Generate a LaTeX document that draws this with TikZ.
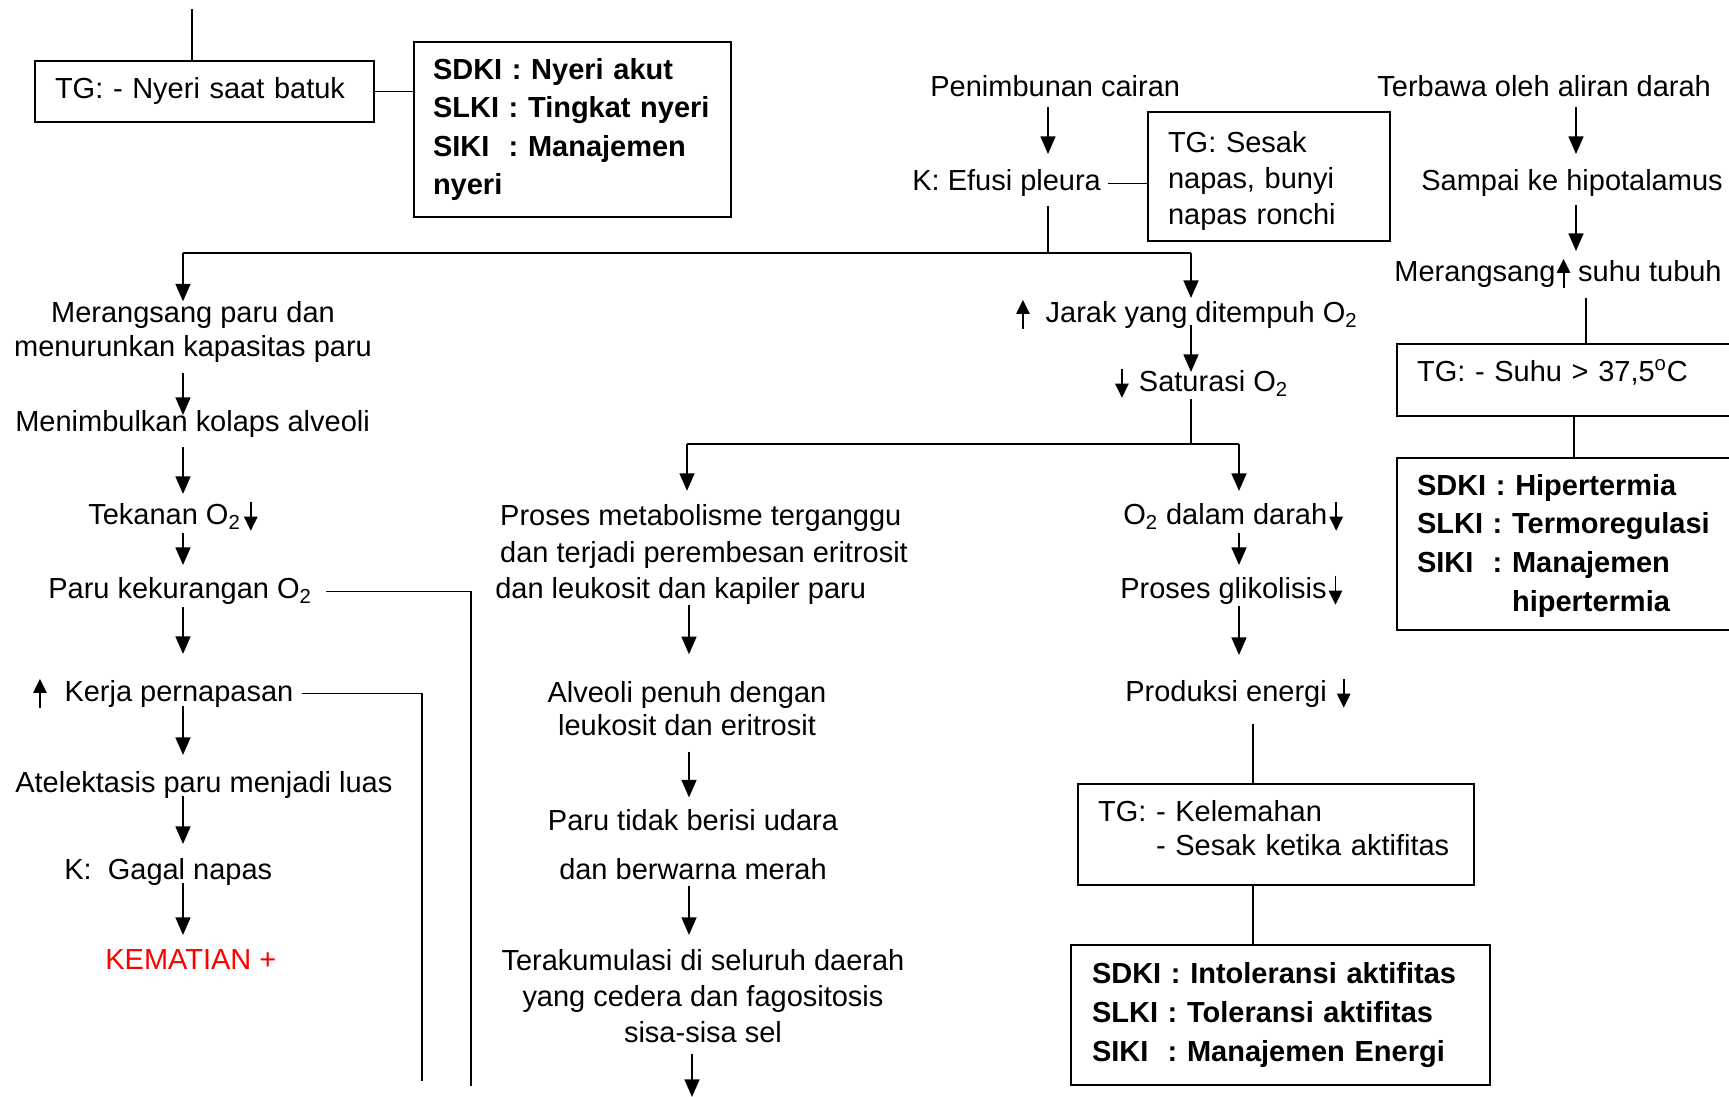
\documentclass[tikz,border=0pt]{standalone}
\usepackage{fontspec}
\setmainfont{Liberation Sans}
\usetikzlibrary{
    arrows.meta,    % For arrow tip styles like Triangle
    calc            % For coordinate offsets ($(...)+(...)$)
}
% Small up/down arrows that sit inside the texts
\newcommand{\naik}{\tikz[baseline=0pt]\draw[-{Triangle[length=8pt,width=7.5pt]}, line width=1.1pt] (0,-0.2em) -- (0,0.8em);}
\newcommand{\turun}{\tikz[baseline=0pt]\draw[-{Triangle[length=8pt,width=7.5pt]}, line width=1.1pt] (0,0.8em) -- (0,-0.2em);}

\begin{document}
\begin{tikzpicture}[
    x=0.02cm, y=-0.02cm, % one unit = one pixel of the scan, y runs downwards
    % Styles
    txt/.style={ % Plain text of the flow
        font=\fontsize{16.5}{19}\selectfont,
        inner sep=0pt
    },
    box/.style={ % Framed TG boxes
        draw,
        line width=0.7pt,
        font=\fontsize{16.5}{20.5}\selectfont,
        align=left,
        inner xsep=0.4cm,
        inner ysep=0pt
    },
    sdki_box/.style={ % Framed diagnosis boxes, bold
        box,
        font=\bfseries\fontsize{16.5}{22}\selectfont
    },
    arrow/.style={
        -{Triangle[length=10pt,width=8.5pt]}, line width=1pt
    },
    link/.style={ % Thin connecting lines without tip
        line width=0.6pt
    }
]
\useasboundingbox (0,0) rectangle (1729,1097);

% --- Top left: pain ---
\coordinate (topin) at (192,9);
\node[box, text width=5.98cm, minimum height=1.22cm] (tg1) at (204.5,91.5) {TG: - Nyeri saat batuk};
\node[sdki_box, inner xsep=0.38cm, text width=5.58cm, minimum height=3.5cm] (sdki1) at (572.5,129.5)
    {SDKI : Nyeri akut\\SLKI : Tingkat nyeri\\SIKI\ \ : Manajemen\\nyeri};
\draw[link] (topin) -- (tg1.north -| topin);
\draw[link] (tg1.east) -- (tg1.east -| sdki1.west);

% --- Efusi pleura ---
\node[txt, anchor=base west] (penim) at (930,97) {Penimbunan cairan};
\node[txt, anchor=base west] (efusi) at (912,191) {K: Efusi pleura};
\node[box, text width=4.04cm, minimum height=2.58cm, font=\fontsize{16.5}{20.7}\selectfont] (tgsesak) at (1269,176.5)
    {\rule{0pt}{17pt}TG: Sesak\\napas, bunyi\\napas ronchi};
\coordinate (colE) at (1048,0);
\draw[arrow] ($(penim.base -| colE)+(0,10)$) -- ($(efusi.base -| colE)+(0,-37)$);
\draw[link] ($(efusi.east)+(7,0)$) -- (efusi.east -| tgsesak.west);

% split below Efusi pleura
\coordinate (splitE) at (1048,253);
\coordinate (splitL) at (183,253);
\coordinate (splitR) at (1191,253);
\draw[link] ($(efusi.base -| splitE)+(0,15)$) -- (splitE);
\draw[link] (splitL) -- (splitR);

% --- Column 1: lungs ---
\coordinate (colA) at (183,0);
\node[txt, align=center, font=\fontsize{16.5}{19.5}\selectfont, anchor=base] (merang) at (193,357)
    {Merangsang paru dan\\menurunkan kapasitas paru};
\node[txt, anchor=base west] (menim) at (15,432) {Menimbulkan kolaps alveoli};
\node[txt, anchor=base west] (tekanan) at (88,525) {Tekanan O\textsubscript{2}\hspace{0.12em}\turun};
\node[txt, anchor=base west] (parukur) at (48,599) {Paru kekurangan O\textsubscript{2}};
\node[txt, anchor=base west] (kerja) at (33,702) {\naik\hspace{0.62em}Kerja pernapasan};
\node[txt, anchor=base west] (atelek) at (15,793) {Atelektasis paru menjadi luas};
\node[txt, anchor=base west] (gagal) at (64,880) {K:\ \ Gagal napas};
\node[txt, anchor=base west, text=red] (kematian) at (105,970) {KEMATIAN +};

\draw[arrow] (splitL) -- (merang.north -| splitL);
\draw[arrow] ($(merang.south -| colA)+(0,10)$) -- ($(menim.base -| colA)+(0,-17)$);
\draw[arrow] ($(menim.base -| colA)+(0,15)$) -- ($(tekanan.base -| colA)+(0,-31)$);
\draw[arrow] ($(tekanan.base -| colA)+(0,8)$) -- ($(parukur.base -| colA)+(0,-34)$);
\draw[arrow] ($(parukur.base -| colA)+(0,8)$) -- ($(kerja.base -| colA)+(0,-48)$);
\draw[arrow] ($(kerja.base -| colA)+(0,4)$) -- ($(atelek.base -| colA)+(0,-38)$);
\draw[arrow] ($(atelek.base -| colA)+(0,3)$) -- ($(gagal.base -| colA)+(0,-36)$);
\draw[arrow] ($(gagal.base -| colA)+(0,3)$) -- ($(kematian.base -| colA)+(0,-35)$);

% lines running down from column 1
\coordinate (endP) at (471,1086);
\coordinate (endK) at (422,1081);
\draw[link] ($(parukur.east)+(14,0)$) -| (endP);
\draw[link] ($(kerja.east)+(8,0)$) -| (endK);

% --- Column 3: oxygen distance ---
\node[txt, anchor=base west] (jarak) at (1016,323) {\naik\ \ Jarak yang ditempuh O\textsubscript{2}};
\node[txt, anchor=base west] (satur) at (1115,392) {\turun\hspace{0.36em}Saturasi O\textsubscript{2}};
\draw[arrow] (splitR) -- ($(jarak.base -| splitR)+(0,-25)$);
\draw[arrow] ($(jarak.base -| splitR)+(0,2)$) -- ($(satur.base -| splitR)+(0,-20)$);

% split below Saturasi
\coordinate (splitS) at (1191,444);
\coordinate (splitM) at (687,444);
\coordinate (splitO) at (1239,444);
\draw[link] ($(satur.base -| splitS)+(0,7)$) -- (splitS);
\draw[link] (splitM) -- (splitO);

% --- Column 2: alveoli ---
\coordinate (colM) at (689,0);
\node[txt, align=left, font=\fontsize{16.5}{21}\selectfont, anchor=base west] (proses) at (495,599)
    {\,Proses metabolisme terganggu\\\,dan terjadi perembesan eritrosit\\dan leukosit dan kapiler paru};
\node[txt, align=center, anchor=base] (alveoli) at (687,736) {Alveoli penuh dengan\\leukosit dan eritrosit};
\node[txt, align=center, anchor=base] (paruud) at (693,880) {Paru tidak berisi udara\\[9pt]dan berwarna merah};
\node[txt, align=center, font=\fontsize{16.5}{20.7}\selectfont, anchor=base] (terak) at (703,1043)
    {Terakumulasi di seluruh daerah\\yang cedera dan fagositosis\\sisa-sisa sel};
\coordinate (endM) at (692,1097);

\draw[arrow] (splitM) -- ($(proses.north -| splitM)+(0,-13)$);
\draw[arrow] (proses.south -| colM) -- ($(alveoli.north -| colM)+(0,-27)$);
\draw[arrow] ($(alveoli.south -| colM)+(0,15)$) -- ($(paruud.north -| colM)+(0,-12)$);
\draw[arrow] ($(paruud.south -| colM)+(0,5)$) -- ($(terak.north -| colM)+(0,-14)$);
\draw[arrow] ($(terak.south -| endM)+(0,10)$) -- (endM);

% --- Column 4: energy ---
\coordinate (colO) at (1239,0);
\coordinate (colP) at (1253,0);
\node[txt, anchor=base west] (o2darah) at (1123,525) {O\textsubscript{2} dalam darah\hspace{0.08em}\turun};
\node[txt, anchor=base west] (glik) at (1120,599) {Proses glikolisis\hspace{0.08em}\turun};
\node[txt, anchor=base west] (prodE) at (1125,702) {Produksi energi \hspace{0.08em}\turun};
\node[box, text width=7.12cm, minimum height=2.02cm, font=\fontsize{16.5}{19.3}\selectfont] (tgkel) at (1276,834.5)
    {TG: - Kelemahan\\\phantom{TG: }- Sesak ketika aktifitas\rule[-7pt]{0pt}{0pt}};
\node[sdki_box, inner xsep=0.42cm, text width=7.54cm, minimum height=2.8cm] (sdki2) at (1280.5,1015)
    {SDKI : Intoleransi aktifitas\\SLKI : Toleransi aktifitas\\SIKI\ \ : Manajemen Energi};

\draw[arrow] (splitO) -- ($(o2darah.base -| splitO)+(0,-34)$);
\draw[arrow] ($(o2darah.base -| colO)+(0,8)$) -- ($(glik.base -| colO)+(0,-34)$);
\draw[arrow] ($(glik.base -| colO)+(0,7)$) -- ($(prodE.base -| colO)+(0,-47)$);
\draw[link] ($(prodE.base -| colP)+(0,22)$) -- (tgkel.north -| colP);
\draw[link] (tgkel.south -| colP) -- (sdki2.north -| colP);

% --- Column 5: body temperature ---
\coordinate (colT) at (1576,0);
\coordinate (colS) at (1586,0);
\coordinate (colH) at (1574,0);
\node[txt, anchor=base west] (terbawa) at (1377,97) {Terbawa oleh aliran darah};
\node[txt, anchor=base west] (sampai) at (1421,191) {Sampai ke hipotalamus};
\node[txt, anchor=base west] (mersuhu) at (1394,282) {Merangsang\hspace{0.05em}\naik\ suhu tubuh};
\node[box, text width=6.46cm, minimum height=1.44cm, text depth=10.5pt] (tgsuhu) at (1578.5,380) {TG: - Suhu > 37,5\textsuperscript{o}C};
\node[sdki_box, text width=6.46cm, minimum height=3.44cm] (sdki3) at (1578.5,544)
    {\rule{0pt}{14pt}SDKI : Hipertermia\\SLKI : Termoregulasi\\SIKI\ \ : Manajemen\\\phantom{SIKI\ \ : }hipertermia};

\draw[arrow] ($(terbawa.base -| colT)+(0,10)$) -- ($(sampai.base -| colT)+(0,-37)$);
\draw[arrow] ($(sampai.base -| colT)+(0,14)$) -- ($(mersuhu.base -| colT)+(0,-31)$);
\draw[link] ($(mersuhu.base -| colS)+(0,16)$) -- (tgsuhu.north -| colS);
\draw[link] (tgsuhu.south -| colH) -- (sdki3.north -| colH);

\end{tikzpicture}
\end{document}
